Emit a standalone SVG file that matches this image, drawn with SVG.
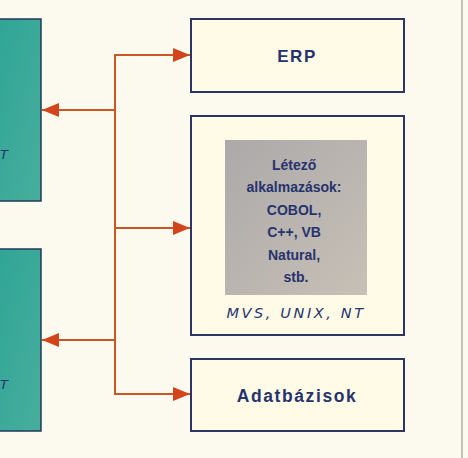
<svg xmlns="http://www.w3.org/2000/svg" width="468" height="458" viewBox="0 0 468 458">
<style>
.box{fill:#fffbe6;stroke:#2a3566;stroke-width:2}
.teal{fill:url(#tealg);stroke:#22385a;stroke-width:1.5}
.lbl{font-family:"Liberation Sans",Arial,sans-serif;font-weight:bold;fill:#26336e;text-anchor:middle}
.it{font-family:"DejaVu Sans",Verdana,sans-serif;font-style:italic;fill:#26336e}
.conn{stroke:#cc5524;stroke-width:2;fill:none}
</style>
<defs>
<linearGradient id="tealg" x1="0" y1="0" x2="1" y2="1">
<stop offset="0" stop-color="#2fa597"/>
<stop offset="1" stop-color="#48ae9c"/>
</linearGradient>
<linearGradient id="greyg" x1="0" y1="0" x2="1" y2="1">
<stop offset="0" stop-color="#aca9a9"/>
<stop offset="1" stop-color="#c7c0b6"/>
</linearGradient>
<marker id="ah" viewBox="0 0 17 14" refX="17" refY="7" markerWidth="17" markerHeight="14" markerUnits="userSpaceOnUse" orient="auto">
<path d="M0,0 L17,7 L0,14 Z" fill="#d2441c"/>
</marker>
</defs>
<rect x="0" y="0" width="468" height="458" fill="#fcfaef"/>
<line x1="462" y1="0" x2="462" y2="458" stroke="#b3aea4" stroke-width="1.5"/>

<g id="left-top">
<rect class="teal" x="-2" y="19" width="43" height="182"/>
<text class="it" x="0" y="159" font-size="13">T</text>
</g>
<g id="left-bottom">
<rect class="teal" x="-2" y="249" width="43" height="182"/>
<text class="it" x="0" y="389" font-size="13">T</text>
</g>

<g id="erp">
<rect class="box" x="191" y="19" width="213" height="73"/>
<text class="lbl" x="297" y="62" font-size="17" letter-spacing="1.5">ERP</text>
</g>

<g id="platform">
<rect class="box" x="191" y="116" width="213" height="219"/>
<rect x="225" y="140" width="142" height="155" fill="url(#greyg)"/>
<text class="lbl" x="296" font-size="14">
<tspan x="296" y="170">Létező</tspan>
<tspan x="296" y="192">alkalmazások:</tspan>
<tspan x="296" y="215">COBOL,</tspan>
<tspan x="296" y="237">C++, VB</tspan>
<tspan x="296" y="260">Natural,</tspan>
<tspan x="296" y="282">stb.</tspan>
</text>
<text class="it" x="296" y="318" font-size="14.5" letter-spacing="2.6" text-anchor="middle">MVS, UNIX, NT</text>
</g>

<g id="adatbazisok">
<rect class="box" x="191" y="359" width="213" height="72"/>
<text class="lbl" x="297" y="402" font-size="17.5" letter-spacing="1.6">Adatbázisok</text>
</g>

<g id="connectors">
<line class="conn" x1="115" y1="54" x2="115" y2="395"/>
<line class="conn" x1="115" y1="55" x2="190" y2="55" marker-end="url(#ah)"/>
<line class="conn" x1="115" y1="110" x2="42" y2="110" marker-end="url(#ah)"/>
<line class="conn" x1="115" y1="228" x2="190" y2="228" marker-end="url(#ah)"/>
<line class="conn" x1="115" y1="340" x2="42" y2="340" marker-end="url(#ah)"/>
<line class="conn" x1="115" y1="394" x2="190" y2="394" marker-end="url(#ah)"/>
</g>
</svg>
